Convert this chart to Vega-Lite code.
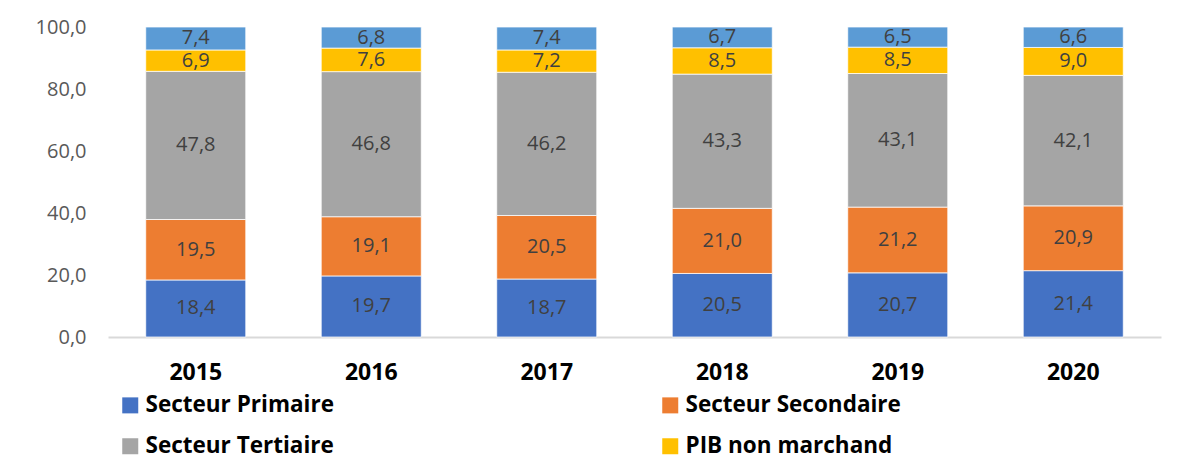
{
  "$schema": "https://vega.github.io/schema/vega-lite/v6.json",
  "autosize": "none",
  "width": 1053,
  "height": 310,
  "padding": {"left": 108, "top": 27, "right": 23, "bottom": 137},
  "background": "white",
  "config": {
    "locale": {"number": {"decimal": ",", "thousands": "\u00a0", "grouping": [3], "currency": ["", " €"]}},
    "view": {"stroke": null},
    "font": "Open Sans"
  },
  "data": {
    "values": [
      {"annee": "2015", "secteur": "Secteur Primaire", "part": 18.4},
      {"annee": "2015", "secteur": "Secteur Secondaire", "part": 19.5},
      {"annee": "2015", "secteur": "Secteur Tertiaire", "part": 47.8},
      {"annee": "2015", "secteur": "PIB non marchand", "part": 6.9},
      {"annee": "2015", "secteur": "Impôts et taxes", "part": 7.4},
      {"annee": "2016", "secteur": "Secteur Primaire", "part": 19.7},
      {"annee": "2016", "secteur": "Secteur Secondaire", "part": 19.1},
      {"annee": "2016", "secteur": "Secteur Tertiaire", "part": 46.8},
      {"annee": "2016", "secteur": "PIB non marchand", "part": 7.6},
      {"annee": "2016", "secteur": "Impôts et taxes", "part": 6.8},
      {"annee": "2017", "secteur": "Secteur Primaire", "part": 18.7},
      {"annee": "2017", "secteur": "Secteur Secondaire", "part": 20.5},
      {"annee": "2017", "secteur": "Secteur Tertiaire", "part": 46.2},
      {"annee": "2017", "secteur": "PIB non marchand", "part": 7.2},
      {"annee": "2017", "secteur": "Impôts et taxes", "part": 7.4},
      {"annee": "2018", "secteur": "Secteur Primaire", "part": 20.5},
      {"annee": "2018", "secteur": "Secteur Secondaire", "part": 21.0},
      {"annee": "2018", "secteur": "Secteur Tertiaire", "part": 43.3},
      {"annee": "2018", "secteur": "PIB non marchand", "part": 8.5},
      {"annee": "2018", "secteur": "Impôts et taxes", "part": 6.7},
      {"annee": "2019", "secteur": "Secteur Primaire", "part": 20.7},
      {"annee": "2019", "secteur": "Secteur Secondaire", "part": 21.2},
      {"annee": "2019", "secteur": "Secteur Tertiaire", "part": 43.1},
      {"annee": "2019", "secteur": "PIB non marchand", "part": 8.5},
      {"annee": "2019", "secteur": "Impôts et taxes", "part": 6.5},
      {"annee": "2020", "secteur": "Secteur Primaire", "part": 21.4},
      {"annee": "2020", "secteur": "Secteur Secondaire", "part": 20.9},
      {"annee": "2020", "secteur": "Secteur Tertiaire", "part": 42.1},
      {"annee": "2020", "secteur": "PIB non marchand", "part": 9.0},
      {"annee": "2020", "secteur": "Impôts et taxes", "part": 6.6}
    ]
  },
  "transform": [
    {"stack": "part", "groupby": ["annee"], "as": ["y0", "y1"]},
    {"calculate": "(datum.y0 + datum.y1) / 2", "as": "ymid"}
  ],
  "encoding": {
    "x": {
      "field": "annee", "type": "nominal", "title": null,
      "scale": {"paddingInner": 0.43, "paddingOuter": 0.215},
      "axis": {
        "labelAngle": 0, "labelFont": "Open Sans", "labelFontWeight": "bold", "labelFontSize": 23,
        "labelColor": "#000000", "labelPadding": 24, "ticks": false,
        "domainColor": "#D9D9D9", "domainWidth": 2
      }
    }
  },
  "layer": [
    {
      "mark": {"type": "bar", "stroke": "white", "strokeWidth": 0.75},
      "encoding": {
        "y": {
          "field": "y0", "type": "quantitative", "title": null,
          "scale": {"domain": [0, 100], "nice": false},
          "axis": {
            "values": [0, 20, 40, 60, 80, 100], "format": ".1f",
            "labelFont": "Open Sans", "labelFontSize": 20, "labelColor": "#595959",
            "labelPadding": 22, "domain": false, "ticks": false, "grid": false
          }
        },
        "y2": {"field": "y1"},
        "color": {
          "field": "secteur", "type": "nominal", "title": null,
          "scale": {
            "domain": ["Secteur Primaire", "Secteur Secondaire", "Secteur Tertiaire", "PIB non marchand", "Impôts et taxes"],
            "range": ["#4472C4", "#ED7D31", "#A5A5A5", "#FFC000", "#5B9BD5"]
          },
          "legend": {
            "values": ["Secteur Primaire", "Secteur Secondaire", "Secteur Tertiaire", "PIB non marchand"],
            "orient": "none", "direction": "horizontal", "legendX": 11, "legendY": 367, "columns": 2,
            "columnPadding": 325, "rowPadding": 18,
            "symbolType": "square", "symbolSize": 256, "symbolStrokeWidth": 0,
            "labelFont": "Open Sans", "labelFontWeight": "bold", "labelFontSize": 22.5,
            "labelColor": "#000000", "labelOffset": 4, "labelLimit": 400
          }
        }
      }
    },
    {
      "mark": {"type": "text", "font": "Open Sans", "fontSize": 20, "color": "#404040", "baseline": "middle", "align": "center"},
      "encoding": {
        "y": {"field": "ymid", "type": "quantitative", "scale": {"domain": [0, 100], "nice": false}},
        "text": {"field": "part", "type": "quantitative", "format": ".1f"}
      }
    }
  ]
}
